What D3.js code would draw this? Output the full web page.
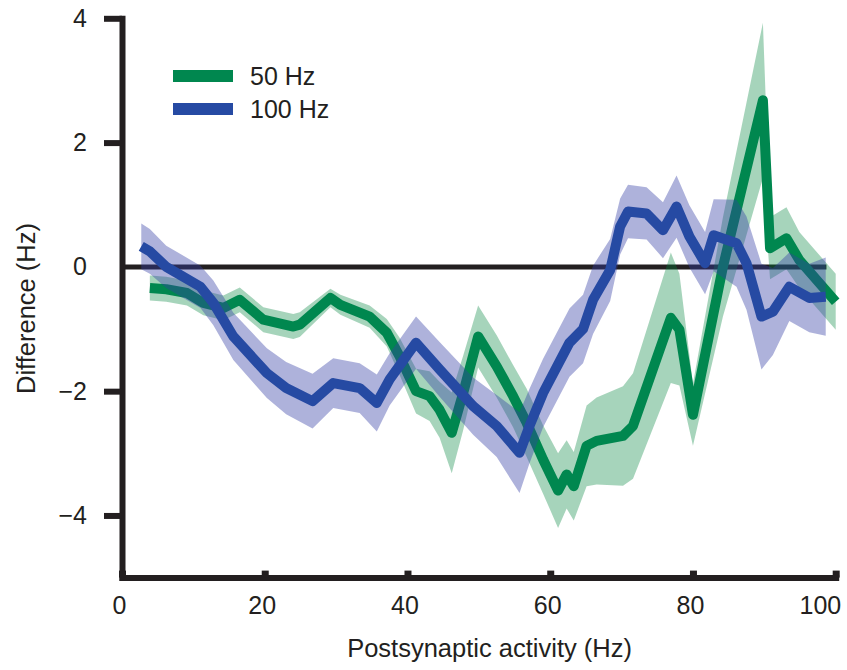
<!DOCTYPE html>
<html>
<head>
<meta charset="utf-8">
<script src="https://cdn.jsdelivr.net/npm/d3@7"></script>
<style>
  body { margin: 0; background: #fff; }
  svg { display: block; font-family: "Liberation Sans", Arial, sans-serif; }
</style>
</head>
<body>
<svg width="847" height="670"></svg>
<script>
// 50 Hz stimulation: mean difference and error band half-width
var hz50X = [3.9, 6.2, 9.1, 11.4, 14.2, 16.5, 19.8, 24.0, 24.9, 29.2, 30.6, 34.7, 37.1, 38.9, 41.2, 43.1, 44.5, 46.2, 47.8, 49.9,
  52.5, 54.8, 56.7, 59.0, 61.1, 62.3, 63.3, 65.1, 66.5, 70.2, 71.6, 76.9, 78.1, 80.0, 84.2, 89.8, 90.8, 93.1, 94.9, 100];
var hz50Y = [-0.34, -0.36, -0.42, -0.58, -0.66, -0.53, -0.85, -0.96, -0.93, -0.5, -0.61, -0.8, -1.06, -1.44, -2.0, -2.08, -2.3, -2.67, -2.03, -1.12,
  -1.6, -2.08, -2.51, -3.1, -3.6, -3.34, -3.53, -2.88, -2.8, -2.72, -2.56, -0.82, -1.01, -2.38, 0.0, 2.68, 0.3, 0.46, 0.11, -0.56];
var hz50Err = [0.2, 0.2, 0.2, 0.2, 0.2, 0.2, 0.2, 0.2, 0.2, 0.15, 0.16, 0.18, 0.22, 0.3, 0.36, 0.4, 0.45, 0.65, 0.6, 0.5,
  0.5, 0.5, 0.55, 0.55, 0.6, 0.55, 0.55, 0.65, 0.7, 0.8, 0.85, 1.05, 0.9, 0.5, 0.8, 1.25, 0.5, 0.5, 0.45, 0.45];

// 100 Hz stimulation
var hz100X = [2.7, 3.9, 6.2, 11.0, 12.8, 15.6, 20.3, 23.0, 26.7, 29.6, 33.3, 35.7, 37.5, 41.2, 44.5, 49.2, 52.5, 55.7, 57.1, 59.0,
  62.7, 64.6, 66.0, 68.4, 69.8, 70.9, 73.5, 75.8, 77.7, 79.5, 81.7, 82.9, 86.1, 87.5, 89.6, 91.2, 93.5, 96.3, 98.6];
var hz100Y = [0.33, 0.25, 0.0, -0.32, -0.58, -1.12, -1.71, -1.95, -2.16, -1.87, -1.95, -2.19, -1.81, -1.22, -1.65, -2.24, -2.56, -2.99, -2.56, -2.03,
  -1.22, -1.0, -0.53, -0.05, 0.65, 0.89, 0.86, 0.59, 0.97, 0.49, 0.06, 0.51, 0.38, 0.06, -0.8, -0.72, -0.32, -0.5, -0.48];
var hz100Err = [0.37, 0.36, 0.34, 0.34, 0.36, 0.38, 0.4, 0.42, 0.44, 0.4, 0.4, 0.46, 0.42, 0.42, 0.44, 0.46, 0.5, 0.65, 0.6, 0.55,
  0.55, 0.55, 0.55, 0.5, 0.45, 0.43, 0.42, 0.45, 0.5, 0.5, 0.5, 0.58, 0.7, 0.75, 0.85, 0.7, 0.55, 0.55, 0.63];

var xTicks = [0, 20, 40, 60, 80, 100];
var yTicks = [4, 2, 0, -2, -4];
var legendLabels = ["50 Hz", "100 Hz"];
var zeroLineEnd = 98.7;

var ink = "#231f20",
  green = "#00874f",
  blue = "#264aa3";

var svg = d3.select("svg");

var x = d3.scaleLinear().domain([0, 100]).range([122, 835.7]),
  y = d3.scaleLinear().domain([-5, 4]).range([577.6, 18.3]);

function rows(xs, ys, es) {
  return xs.map((v, i) => ({ x: v, y: ys[i], e: es[i] }));
}

var series = [
  { key: legendLabels[0], color: green, band: "#00843d", bandOpacity: 0.35, data: rows(hz50X, hz50Y, hz50Err) },
  { key: legendLabels[1], color: blue, band: "#343ea5", bandOpacity: 0.4, data: rows(hz100X, hz100Y, hz100Err) }
];

var area = d3.area()
  .x(d => x(d.x))
  .y0(d => y(d.y - d.e))
  .y1(d => y(d.y + d.e));

var line = d3.line()
  .x(d => x(d.x))
  .y(d => y(d.y));

// zero reference line sits under the data
svg.append("line")
  .attr("x1", x(0))
  .attr("x2", x(zeroLineEnd))
  .attr("y1", y(0))
  .attr("y2", y(0))
  .attr("stroke", ink)
  .attr("stroke-width", 5);

// each band then its line, 50 Hz first so the 100 Hz band tints it
series.forEach(s => {
  svg.append("path")
    .datum(s.data)
    .attr("fill", s.band)
    .attr("fill-opacity", s.bandOpacity)
    .attr("d", area);

  svg.append("path")
    .datum(s.data)
    .attr("fill", "none")
    .attr("stroke", s.color)
    .attr("stroke-width", 10)
    .attr("stroke-linejoin", "round")
    .attr("d", line);
});

// y axis
var yAxis = svg.append("g")
  .attr("transform", `translate(${x(0)},0)`)
  .call(d3.axisLeft(y).tickValues(yTicks).tickSize(18).tickSizeOuter(0).tickPadding(17));

yAxis.select(".domain")
  .attr("stroke", ink)
  .attr("stroke-width", 6)
  .attr("stroke-linecap", "square");
yAxis.selectAll(".tick line")
  .attr("stroke", ink)
  .attr("stroke-width", 6)
  .filter(d => d === 0).remove();
yAxis.selectAll(".tick text")
  .attr("fill", ink)
  .style("font-size", "25px");

// x axis, ticks pointing up
var xAxis = svg.append("g")
  .attr("transform", `translate(0,${y(-5)})`)
  .call(d3.axisBottom(x).tickValues(xTicks).tickSize(-7).tickSizeOuter(0).tickPadding(19));

xAxis.select(".domain")
  .attr("stroke", ink)
  .attr("stroke-width", 6)
  .attr("stroke-linecap", "square");
xAxis.selectAll(".tick line")
  .attr("stroke", ink)
  .attr("stroke-width", 7);
xAxis.selectAll(".tick text")
  .attr("fill", ink)
  .attr("dx", d => d === 100 ? 5 : -3)
  .attr("text-anchor", d => d === 100 ? "end" : "middle")
  .style("font-size", "25px");

// axis titles
svg.append("text")
  .attr("x", x(51.5))
  .attr("y", 657)
  .attr("text-anchor", "middle")
  .attr("fill", ink)
  .style("font-size", "25.5px")
  .text("Postsynaptic activity (Hz)");

svg.append("text")
  .attr("transform", `translate(35,${y(-0.67)}) rotate(-90)`)
  .attr("text-anchor", "middle")
  .attr("fill", ink)
  .style("font-size", "25.5px")
  .text("Difference (Hz)");

// legend
var legend = svg.append("g")
  .attr("transform", "translate(173,76)");

var item = legend.selectAll("g")
  .data(series)
  .enter().append("g")
  .attr("transform", (d, i) => `translate(0,${i * 33})`);

item.append("line")
  .attr("x1", 0)
  .attr("x2", 60)
  .attr("stroke", d => d.color)
  .attr("stroke-width", 12);

item.append("text")
  .attr("x", 77)
  .attr("dy", "0.36em")
  .attr("fill", ink)
  .style("font-size", "25px")
  .text(d => d.key);
</script>
</body>
</html>
